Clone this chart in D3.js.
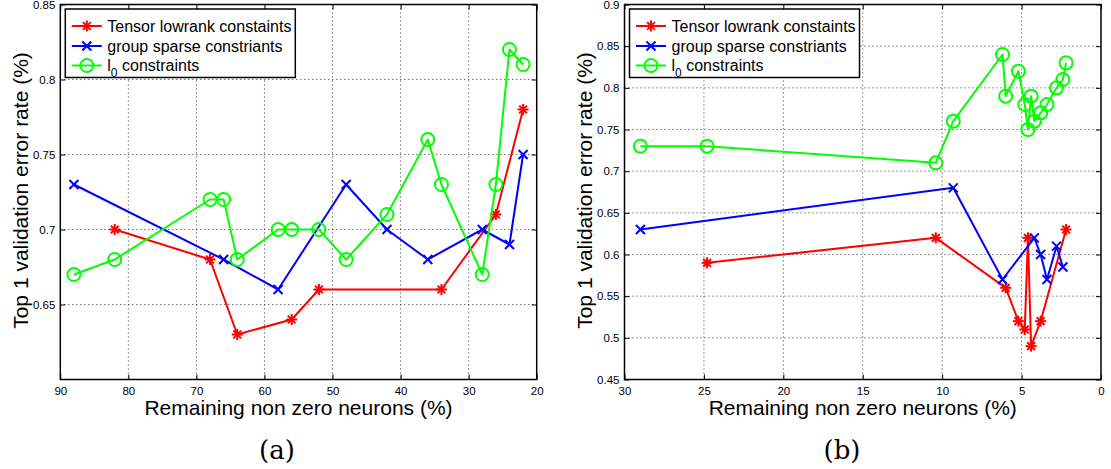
<!DOCTYPE html>
<html>
<head>
<meta charset="utf-8">
<script src="https://cdn.jsdelivr.net/npm/d3@7"></script>
<style>
  html, body { margin: 0; padding: 0; background: #fff; }
  svg { display: block; font-family: "Liberation Sans", Arial, Helvetica, sans-serif; }
</style>
</head>
<body>
<svg id="fig" width="1111" height="469"></svg>
<script>
// ---- Panel (a): remaining non-zero neurons 90% .. 20%
const aXTicks = [90, 80, 70, 60, 50, 40, 30, 20];
const aYTicks = [0.65, 0.7, 0.75, 0.8, 0.85];
const aLowrankX = [82, 68, 64, 56, 52, 34, 26, 22];
const aLowrankY = [0.70, 0.68, 0.63, 0.64, 0.66, 0.66, 0.71, 0.78];
const aGroupX = [88, 66, 58, 48, 42, 36, 28, 24, 22];
const aGroupY = [0.73, 0.68, 0.66, 0.73, 0.70, 0.68, 0.70, 0.69, 0.75];
const aL0X = [88, 82, 68, 66, 64, 58, 56, 52, 48, 42, 36, 34, 28, 26, 24, 22];
const aL0Y = [0.67, 0.68, 0.72, 0.72, 0.68, 0.70, 0.70, 0.70, 0.68, 0.71, 0.76, 0.73, 0.67, 0.73, 0.82, 0.81];

// ---- Panel (b): remaining non-zero neurons 30% .. 0%
const bXTicks = [30, 25, 20, 15, 10, 5, 0];
const bYTicks = [0.45, 0.5, 0.55, 0.6, 0.65, 0.7, 0.75, 0.8, 0.85, 0.9];
const bLowrankX = [24.8, 10.4, 6.0, 5.2, 4.8, 4.6, 4.4, 3.8, 2.2];
const bLowrankY = [0.59, 0.62, 0.56, 0.52, 0.51, 0.62, 0.49, 0.52, 0.63];
const bGroupX = [29, 9.3, 6.2, 4.2, 3.8, 3.4, 2.8, 2.4];
const bGroupY = [0.63, 0.68, 0.57, 0.62, 0.60, 0.57, 0.61, 0.585];
const bL0X = [29, 24.8, 10.4, 9.3, 6.2, 6.0, 5.2, 4.8, 4.6, 4.4, 4.2, 3.8, 3.4, 2.8, 2.4, 2.2];
const bL0Y = [0.73, 0.73, 0.71, 0.76, 0.84, 0.79, 0.82, 0.78, 0.75, 0.79, 0.76, 0.77, 0.78, 0.80, 0.81, 0.83];

const seriesNames = ["Tensor lowrank constaints", "group sparse constriants", "l0 constraints"];
const seriesColors = ["#ff0000", "#0000ff", "#00ff00"];
const seriesMarkers = ["star", "cross", "circle"];

const xTitle = "Remaining non zero neurons (%)";
const yTitle = "Top 1 validation error rate (%)";

const svg = d3.select("#fig");

function zip(xs, ys) { return xs.map((x, i) => ({ x: x, y: ys[i] })); }

function drawMarker(g, type, color) {
  if (type === "star") {
    const r = 5.5;
    [0, 45, 90, 135].forEach(a => {
      const t = a * Math.PI / 180;
      g.append("line")
        .attr("x1", -r * Math.cos(t)).attr("y1", -r * Math.sin(t))
        .attr("x2", r * Math.cos(t)).attr("y2", r * Math.sin(t))
        .attr("stroke", color).attr("stroke-width", 2);
    });
  } else if (type === "cross") {
    const r = 4.5;
    g.append("path").attr("d", `M${-r},${-r}L${r},${r}M${-r},${r}L${r},${-r}`)
      .attr("stroke", color).attr("stroke-width", 2).attr("fill", "none");
  } else {
    g.append("circle").attr("r", 6.5).attr("fill", "none")
      .attr("stroke", color).attr("stroke-width", 2);
  }
}

function panel(o) {
  const x = d3.scaleLinear().domain(o.xDomain).range([o.left, o.right]);
  const y = d3.scaleLinear().domain(o.yDomain).range([o.bottom, o.top]);
  const g = svg.append("g");

  // dotted grid
  const grid = g.append("g").attr("stroke", "#333").attr("stroke-width", 1)
    .attr("stroke-dasharray", "1,3");
  o.xTicks.filter(t => t !== o.xDomain[0] && t !== o.xDomain[1]).forEach(t => {
    grid.append("line").attr("x1", x(t)).attr("x2", x(t))
      .attr("y1", o.top).attr("y2", o.bottom);
  });
  o.yTicks.filter(t => t !== o.yDomain[0] && t !== o.yDomain[1]).forEach(t => {
    grid.append("line").attr("y1", y(t)).attr("y2", y(t))
      .attr("x1", o.left).attr("x2", o.right);
  });

  // axes with inward ticks on all four sides
  const tl = 5;
  const fmt = d => d3.format("")(+d.toFixed(3));
  const axB = g.append("g").attr("transform", `translate(0,${o.bottom})`)
    .call(d3.axisBottom(x).tickValues(o.xTicks).tickSize(-tl).tickPadding(7).tickFormat(fmt));
  const axT = g.append("g").attr("transform", `translate(0,${o.top})`)
    .call(d3.axisTop(x).tickValues(o.xTicks).tickSize(-tl).tickFormat(""));
  const axL = g.append("g").attr("transform", `translate(${o.left},0)`)
    .call(d3.axisLeft(y).tickValues(o.yTicks).tickSize(-tl).tickPadding(5).tickFormat(fmt));
  const axR = g.append("g").attr("transform", `translate(${o.right},0)`)
    .call(d3.axisRight(y).tickValues(o.yTicks).tickSize(-tl).tickFormat(""));
  [axB, axT, axL, axR].forEach(a => {
    a.select(".domain").remove();
    a.selectAll(".tick line").attr("stroke", "#000").attr("stroke-width", 1);
    a.selectAll("text").attr("font-size", 11.5).attr("fill", "#000")
      .attr("font-family", "'Liberation Sans', Arial, sans-serif");
  });
  axB.selectAll("text").attr("dy", "0.71em");
  axL.selectAll("text").attr("dy", "0.32em");

  // box
  g.append("rect").attr("x", o.left).attr("y", o.top)
    .attr("width", o.right - o.left).attr("height", o.bottom - o.top)
    .attr("fill", "none").attr("stroke", "#000").attr("stroke-width", 1.5);

  // series
  const line = d3.line().x(d => x(d.x)).y(d => y(d.y));
  o.series.forEach((s, i) => {
    g.append("path").datum(s).attr("d", line).attr("fill", "none")
      .attr("stroke", seriesColors[i]).attr("stroke-width", 2)
      .attr("stroke-linejoin", "round");
    s.forEach(d => {
      drawMarker(g.append("g").attr("transform", `translate(${x(d.x)},${y(d.y)})`),
        seriesMarkers[i], seriesColors[i]);
    });
  });

  // legend
  const lg = g.append("g").attr("transform", `translate(${o.left + 5},${o.top + 4.5})`);
  lg.append("rect").attr("width", 230).attr("height", 68.5)
    .attr("fill", "#fff").attr("stroke", "#000").attr("stroke-width", 1.5);
  const rowY = [17, 37, 56.5];
  seriesNames.forEach((name, i) => {
    lg.append("line").attr("x1", 6.5).attr("x2", 36.5).attr("y1", rowY[i]).attr("y2", rowY[i])
      .attr("stroke", seriesColors[i]).attr("stroke-width", 2);
    drawMarker(lg.append("g").attr("transform", `translate(21.5,${rowY[i]})`),
      seriesMarkers[i], seriesColors[i]);
    const t = lg.append("text").attr("x", 42).attr("y", rowY[i]).attr("dy", "0.35em")
      .attr("font-size", 16).attr("fill", "#000");
    if (i === 2) {
      t.append("tspan").text("l");
      t.append("tspan").attr("dy", 6).attr("font-size", 12).text("0");
      t.append("tspan").attr("dy", -6).text(" constraints");
    } else {
      t.text(name);
    }
  });

  // axis titles
  g.append("text").attr("x", (o.left + o.right) / 2).attr("y", 414.5)
    .attr("text-anchor", "middle").attr("font-size", 21).text(xTitle);
  g.append("text").attr("transform", `translate(${o.left - 39.6},190.5) rotate(-90)`)
    .attr("text-anchor", "middle").attr("dy", "0.35em").attr("font-size", 21).text(yTitle);

  // panel caption
  g.append("text").attr("x", o.captionX).attr("y", 459).attr("text-anchor", "middle")
    .attr("font-family", "'DejaVu Serif', 'Liberation Serif', serif")
    .attr("font-size", 26).text(o.caption);
}

panel({
  left: 60.3, right: 536.7, top: 4.5, bottom: 379.5,
  xDomain: [90, 20], yDomain: [0.6, 0.85],
  xTicks: aXTicks, yTicks: aYTicks,
  series: [zip(aLowrankX, aLowrankY), zip(aGroupX, aGroupY), zip(aL0X, aL0Y)],
  caption: "(a)", captionX: 277
});

panel({
  left: 624.5, right: 1101, top: 4.5, bottom: 379.5,
  xDomain: [30, 0], yDomain: [0.45, 0.9],
  xTicks: bXTicks, yTicks: bYTicks,
  series: [zip(bLowrankX, bLowrankY), zip(bGroupX, bGroupY), zip(bL0X, bL0Y)],
  caption: "(b)", captionX: 842
});
</script>
</body>
</html>
